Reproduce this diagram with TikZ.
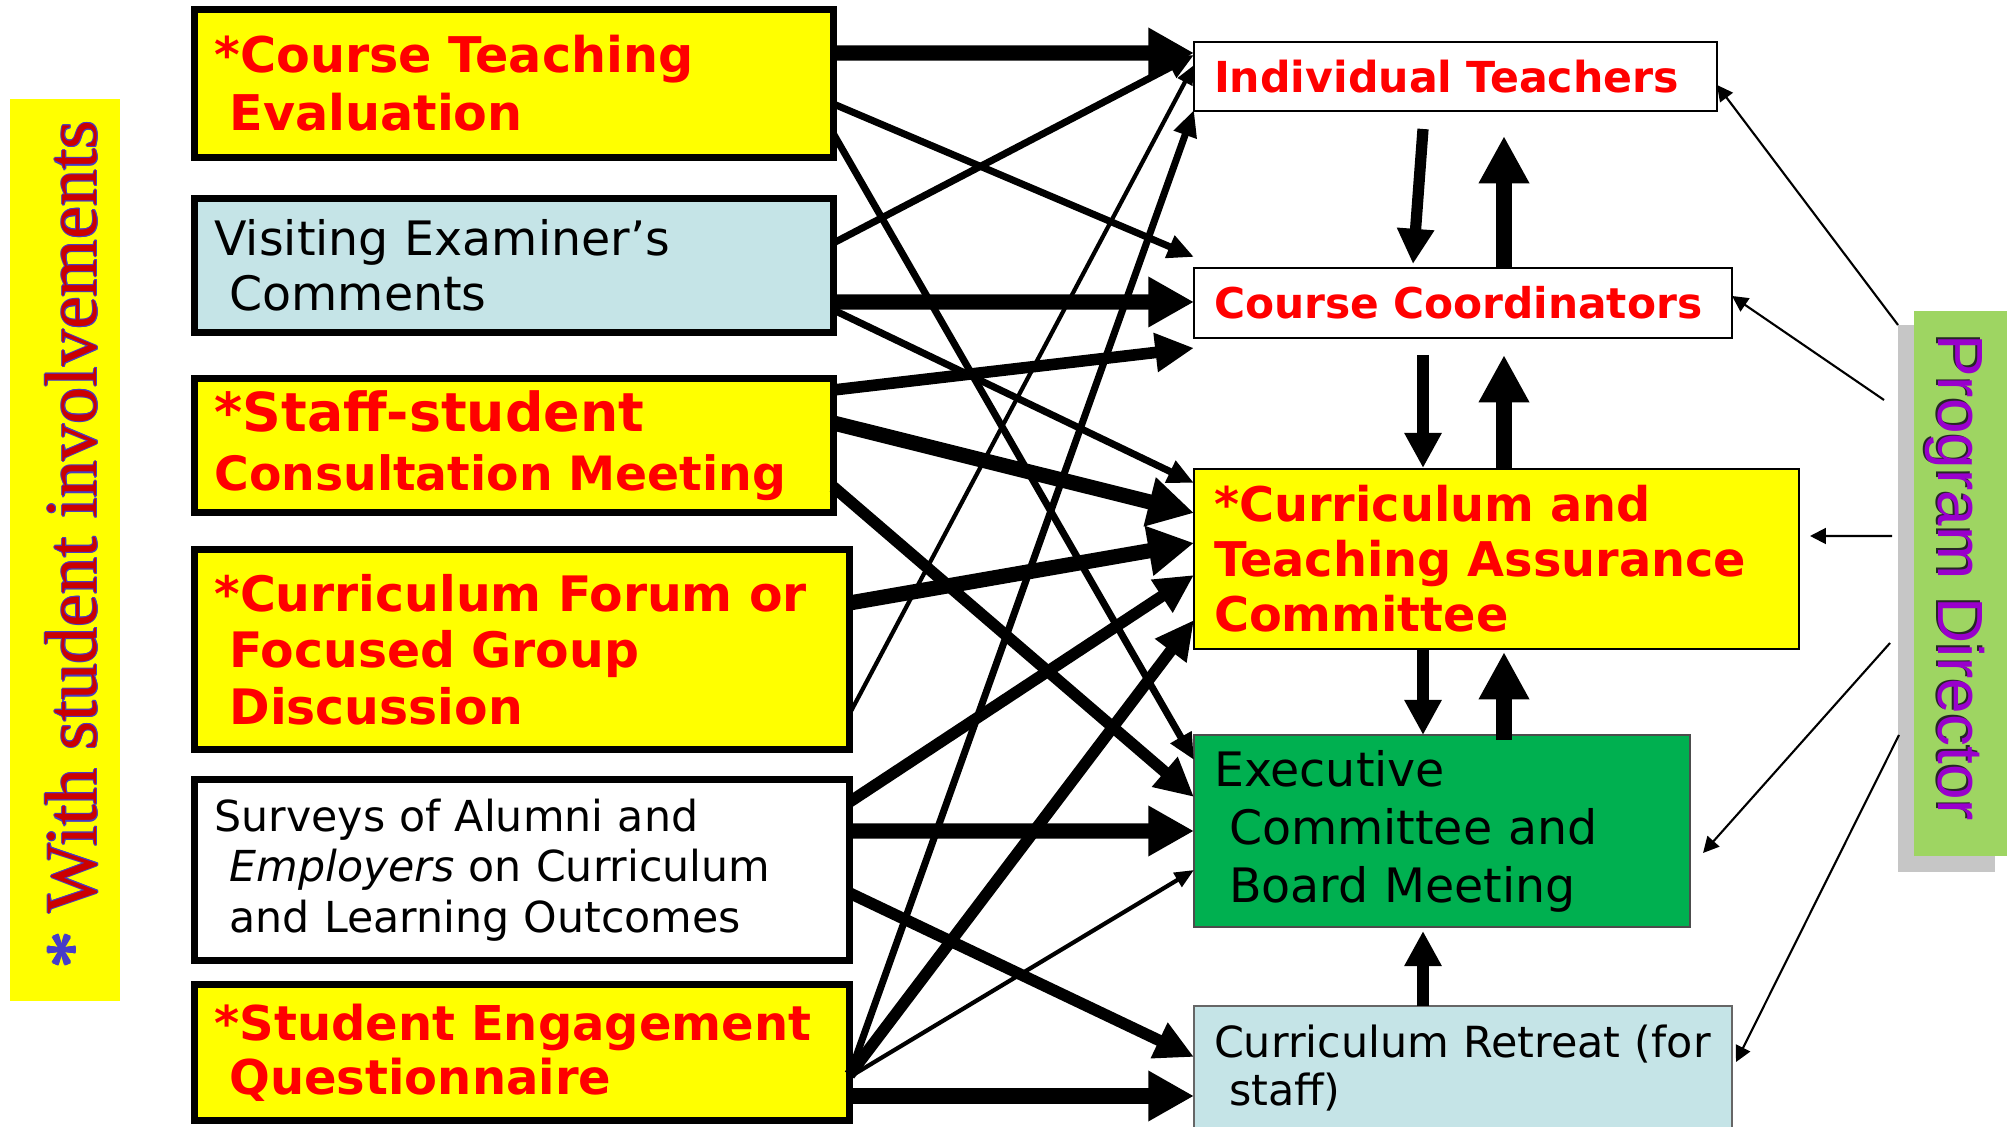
\documentclass[tikz,border=0pt]{standalone}
\usepackage{fontspec}
\setmainfont{DejaVu Sans}
\newfontfamily\bannerfont{Liberation Serif}
\newfontfamily\directorfont{Liberation Sans}
\usetikzlibrary{arrows.meta,calc}

\definecolor{boxyellow}{RGB}{255,255,0}
\definecolor{boxblue}{RGB}{197,228,231}
\definecolor{boxgreen}{RGB}{0,176,80}
\definecolor{pdgreen}{RGB}{158,213,98}
\definecolor{pdgray}{RGB}{198,198,198}
\definecolor{pdpurple}{RGB}{153,0,204}
\definecolor{rimblue}{RGB}{70,60,200}

\tikzset{
  source/.style={draw=black, line width=2pt, anchor=north west, outer sep=0pt,
    inner xsep=0.2cm, inner ysep=0.1cm, align=left},
  target/.style={draw=black, line width=0.6pt, anchor=north west, outer sep=0pt,
    inner xsep=0.2cm, inner ysep=0.1cm, align=left},
  redtext/.style={text=red},
  heavy/.style={line width=4.3pt, -{Triangle[length=13pt,width=13.5pt]}},
  strong/.style={line width=3.3pt, -{Triangle[length=11pt,width=10.5pt]}},
  medium/.style={line width=2pt, -{Triangle[length=7.5pt,width=6.5pt]}},
  light/.style={line width=1.2pt, -{Triangle[length=5.5pt,width=4.5pt]}},
  thinlink/.style={line width=3.2pt, -{Triangle[length=10pt,width=10pt]}},
  thicklink/.style={line width=4.4pt, -{Triangle[length=13.5pt,width=13.5pt]}},
  steer/.style={line width=0.6pt, -{Triangle[length=4.5pt,width=4.5pt]}},
}

\begin{document}
\begin{tikzpicture}
    \path[use as bounding box] (0,0) rectangle (20.07,-11.27);
    \clip (0,0) rectangle (20.07,-11.27);
    % Student involvement banner
    \node[fill=boxyellow, minimum width=1.10cm, minimum height=9.02cm, anchor=north west,
      inner sep=0pt] (banner) at (0.09,-0.98) {};
    \foreach \dx/\dy [count=\k] in {0.3/0,-0.3/0,0/0.3,0/-0.3,0.2/0.2,-0.2/0.2,0.2/-0.2,-0.2/-0.2}
      \node[rotate=90, text=rimblue, font={\bannerfont\fontsize{21}{24}\selectfont}]
        (rim\k) at ([xshift=0.07cm+\dx pt, yshift=0.05cm+\dy pt]banner.center) {* With student involvements};
    \node[rotate=90, text=red!80!black, font={\bannerfont\fontsize{21}{24}\selectfont}]
      (involve) at ([xshift=0.07cm, yshift=0.05cm]banner.center) {\textcolor{rimblue}{*} With student involvements};
    % Sources of feedback
    \node[source, fill=boxyellow, redtext, text width=5.99cm, minimum height=1.48cm,
      font={\fontsize{14}{16.5}\selectfont\bfseries}] (cte) at (1.945,-0.095)
      {*Course Teaching\\\hspace*{0.15cm}Evaluation};
    \node[source, fill=boxblue, text width=5.99cm, minimum height=1.34cm,
      font={\fontsize{13.5}{15.6}\selectfont}] (vec) at (1.945,-1.985)
      {Visiting Examiner’s\\\hspace*{0.15cm}Comments};
    \node[source, fill=boxyellow, redtext, text width=5.99cm, minimum height=1.34cm,
      font={\fontsize{13.45}{16.8}\selectfont\bfseries}] (ssc) at (1.945,-3.785)
      {{\fontsize{15.3}{17}\selectfont *Staff-student}\\Consultation Meeting};
    \node[source, fill=boxyellow, redtext, text width=6.15cm, minimum height=2cm,
      font={\fontsize{13.9}{16.1}\selectfont\bfseries}] (cff) at (1.945,-5.495)
      {*Curriculum Forum or\\\hspace*{0.15cm}Focused Group\\\hspace*{0.15cm}Discussion};
    \node[source, fill=white, text width=6.15cm, minimum height=1.81cm,
      font={\fontsize{12.15}{14.4}\selectfont}] (svy) at (1.945,-7.795)
      {Surveys of Alumni and\\\hspace*{0.15cm}\textit{Employers} on Curriculum\\\hspace*{0.15cm}and Learning Outcomes};
    \node[source, fill=boxyellow, redtext, text width=6.15cm, minimum height=1.36cm,
      font={\fontsize{13.65}{15.4}\selectfont\bfseries}] (seq) at (1.945,-9.845)
      {*Student Engagement\\\hspace*{0.15cm}Questionnaire};
    % Receivers
    \node[target, fill=white, redtext, text width=4.83cm, minimum height=0.69cm,
      font={\fontsize{12.15}{14}\selectfont\bfseries}] (it) at (11.94,-0.42) {Individual~Teachers};
    \node[target, fill=white, redtext, text width=4.98cm, minimum height=0.70cm,
      font={\fontsize{12.05}{14}\selectfont\bfseries}] (cc) at (11.94,-2.68) {Course~Coordinators};
    \node[target, fill=boxyellow, redtext, text width=5.65cm, minimum height=1.80cm,
      font={\fontsize{13.6}{15.6}\selectfont\bfseries}] (ctac) at (11.94,-4.69)
      {*Curriculum and\\Teaching Assurance\\Committee};
    \node[target, fill=boxgreen, draw=black!70, text width=4.56cm, minimum height=1.92cm,
      font={\fontsize{13.5}{16.5}\selectfont}] (exec) at (11.94,-7.35)
      {Executive\\\hspace*{0.15cm}Committee and\\\hspace*{0.15cm}Board Meeting};
    \node[target, fill=boxblue, draw=black!60, text width=4.98cm, minimum height=1.24cm,
      font={\fontsize{12.2}{13.9}\selectfont}] (ret) at (11.94,-10.06)
      {Curriculum~Retreat~(for\\\hspace*{0.15cm}staff)};
    % Program Director
    \node[fill=pdgray, minimum width=0.97cm, minimum height=5.47cm, anchor=north west,
      inner sep=0pt, outer sep=0pt] (pdshadow) at (18.98,-3.25) {};
    \node[fill=pdgreen, minimum width=0.95cm, minimum height=5.45cm, anchor=north west,
      inner sep=0pt] (pd) at (19.13,-3.10) {};
    \node[rotate=-90, text=black!85, font={\directorfont\fontsize{18.2}{20}\selectfont}]
      (pdshade) at ([xshift=-0.085cm, yshift=0.07cm]pd.center) {Program Director};
    \node[rotate=-90, text=pdpurple, font={\directorfont\fontsize{18.2}{20}\selectfont}]
      (pdname) at ([xshift=-0.065cm, yshift=0.055cm]pd.center) {Program Director};
    % Feedback flows
    \draw[heavy]  ([yshift=0.305cm]cte.east) -- ([yshift=0.235cm]it.west);
    \draw[medium] ([yshift=-0.205cm]cte.east) -- ([yshift=0.46cm]cc.west);
    \draw[medium] ([yshift=-0.505cm]cte.east) -- ([yshift=0.71cm]exec.west);
    \draw[medium] ([yshift=0.225cm]vec.east) -- ([yshift=0.215cm]it.west);
    \draw[heavy]  ([yshift=-0.365cm]vec.east) -- ([yshift=0.01cm]cc.west);
    \draw[medium] ([yshift=-0.445cm]vec.east) -- ([yshift=0.76cm]ctac.west);
    \draw[strong] ([yshift=0.555cm]ssc.east) -- ([yshift=-0.45cm]cc.west);
    \draw[heavy]  ([yshift=0.225cm]ssc.east) -- ([yshift=0.46cm]ctac.west);
    \draw[strong] ([yshift=-0.415cm]ssc.east) -- ([yshift=0.34cm]exec.west);
    \draw[heavy]  ([yshift=0.465cm]cff.east) -- ([yshift=0.16cm]ctac.west);
    \draw[light]  ([yshift=-0.645cm]cff.east) -- ([yshift=0.115cm]it.west);
    \draw[strong] ([yshift=0.68cm]svy.east) -- ([yshift=-0.16cm]ctac.west);
    \draw[heavy]  ([yshift=0.39cm]svy.east) -- (exec.west);
    \draw[strong] ([yshift=-0.23cm]svy.east) -- ([yshift=0.11cm]ret.west);
    \draw[medium] ([yshift=-0.225cm]seq.east) -- ([yshift=-0.335cm]it.west);
    \draw[strong] ([yshift=-0.225cm]seq.east) -- ([yshift=-0.61cm]ctac.west);
    \draw[light]  ([yshift=-0.245cm]seq.east) -- ([yshift=-0.39cm]exec.west);
    \draw[heavy]  ([yshift=-0.435cm]seq.east) -- ([yshift=-0.28cm]ret.west);
    % Links between committees
    \draw[thinlink]  ($(it.south west)+(2.29,-0.18)$) -- ($(cc.north west)+(2.19,0.04)$);
    \draw[thicklink] ($(cc.north west)+(3.10,0)$) -- ($(it.south west)+(3.10,-0.25)$);
    \draw[thinlink]  ($(cc.south west)+(2.29,-0.17)$) -- ($(ctac.north west)+(2.29,0.01)$);
    \draw[thicklink] ($(ctac.north west)+(3.10,0)$) -- ($(cc.south west)+(3.10,-0.17)$);
    \draw[thinlink]  ($(ctac.south west)+(2.29,0)$) -- ($(exec.north west)+(2.29,0)$);
    \draw[thicklink] ($(exec.north west)+(3.10,-0.05)$) -- ($(ctac.south west)+(3.10,-0.03)$);
    \draw[thinlink]  ($(ret.north west)+(2.29,0)$) -- ($(exec.south west)+(2.29,-0.04)$);
    % Program Director steering
    \draw[steer] (pdshadow.north west) -- ([yshift=-0.085cm]it.east);
    \draw[steer] ($(pdshadow.north west)+(-0.14,-0.75)$) -- ([yshift=0.07cm]cc.east);
    \draw[steer] ($(pdshadow.north west)+(-0.06,-2.11)$) -- ([xshift=0.11cm,yshift=0.23cm]ctac.east);
    \draw[steer] ($(pdshadow.north west)+(-0.08,-3.18)$) -- ([xshift=0.13cm,yshift=-0.22cm]exec.east);
    \draw[steer] ($(pdshadow.north west)+(0.01,-4.10)$) -- ([xshift=0.04cm,yshift=0.06cm]ret.east);
\end{tikzpicture}
\end{document}
